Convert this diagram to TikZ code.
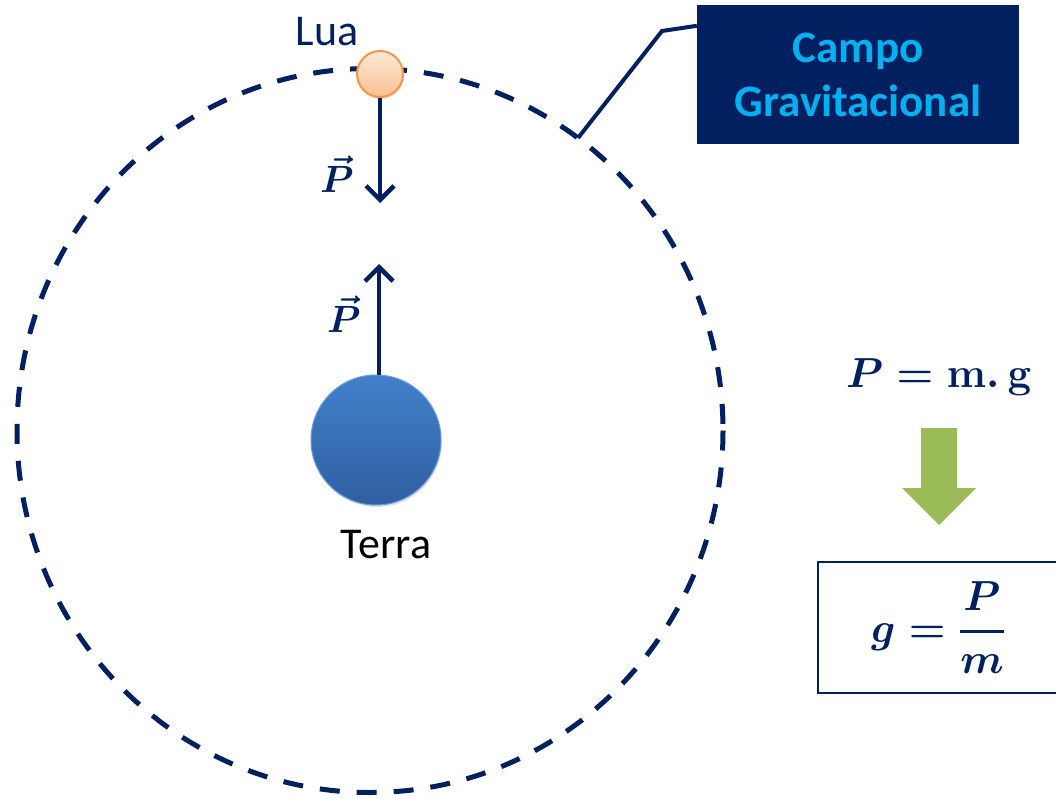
\RequirePackage{fix-cm}
\documentclass[tikz,border=0pt]{standalone}
\usepackage{amsmath,bm}
\usepackage[no-math]{fontspec}
\setmainfont{Carlito}
\usetikzlibrary{arrows.meta,shadows,calc}
\definecolor{navy}{RGB}{0,32,96}
\definecolor{skyb}{RGB}{0,176,240}
\definecolor{leaf}{RGB}{155,187,89}
\definecolor{peachA}{RGB}{253,233,217}
\definecolor{peachB}{RGB}{250,192,144}
\definecolor{orangeB}{RGB}{247,150,70}
\definecolor{earthA}{RGB}{66,128,204}
\definecolor{earthB}{RGB}{47,95,160}
\tikzset{
  orbit/.style={draw=navy, line width=5pt, dash pattern=on 20pt off 17pt},
  force/.style={draw=navy, line width=4.5pt, -{Straight Barb[length=14pt,width=28pt]}},
  label/.style={font=\fontsize{44}{50}\selectfont},
  vec/.style={text=navy, font=\fontsize{38}{44}\selectfont\boldmath},
  eqn/.style={text=navy, font=\fontsize{42}{48}\selectfont\boldmath},
}
\begin{document}
\begin{tikzpicture}[x=1pt,y=-1pt]
\useasboundingbox (0,0) rectangle (1056,798);
% orbit
\draw[orbit] (370,430.5) ellipse [x radius=353, y radius=362];
\coordinate (orbitpt) at (578,138);
% moon
\node[circle, minimum size=46pt, inner sep=0pt, draw=orangeB, line width=2pt,
      top color=peachA, bottom color=peachB, drop shadow={opacity=0.25,shadow xshift=1pt,shadow yshift=-2pt}] (lua) at (380,74) {};
\node[label, text=navy] (luatxt) at (327,32) {Lua};
% earth
\node[circle, minimum size=130pt, inner sep=0pt, draw=earthA!80!white, line width=1pt,
      top color=earthA, bottom color=earthB, drop shadow={opacity=0.25,shadow xshift=1pt,shadow yshift=-2pt}] (terra) at (376,440) {};
\node[label, text=black] (terratxt) at (386,545) {Terra};
% forces
\coordinate (tipdown) at (380,203);
\coordinate (tipup) at (379,264);
\draw[force] (lua.south) -- (tipdown);
\draw[force] (terra.north -| tipup) -- (tipup);
\node[vec] (p1) at (337,174) {$\vec{P}$};
\node[vec] (p2) at (344,314) {$\vec{P}$};
% campo box
\node[fill=navy, minimum width=322pt, minimum height=139pt, inner sep=0pt,
      text=skyb, align=center, font=\bfseries\fontsize{45}{54}\selectfont] (campo) at (858,74.5) {Campo\\Gravitacional};
\draw[navy, line width=4pt] (campo.north west) ++(0,21) coordinate (cstart) -- (662,31) -- (orbitpt);
% equations
\node[eqn] (eq1) at (939,377) {$P=\mathbf{m}.\,\mathbf{g}$};
\fill[leaf] (921,428) -- (957,428) -- (957,488) -- (976,488) -- (939,525) -- (902,488) -- (921,488) -- cycle;
\draw[navy, line width=2pt] (1060,562) -- (818,562) -- (818,693) -- (1060,693);
\node[eqn] (eq2) at (938,628) {$g=\genfrac{}{}{3.5pt}{0}{P}{m}$};
\end{tikzpicture}
\end{document}
